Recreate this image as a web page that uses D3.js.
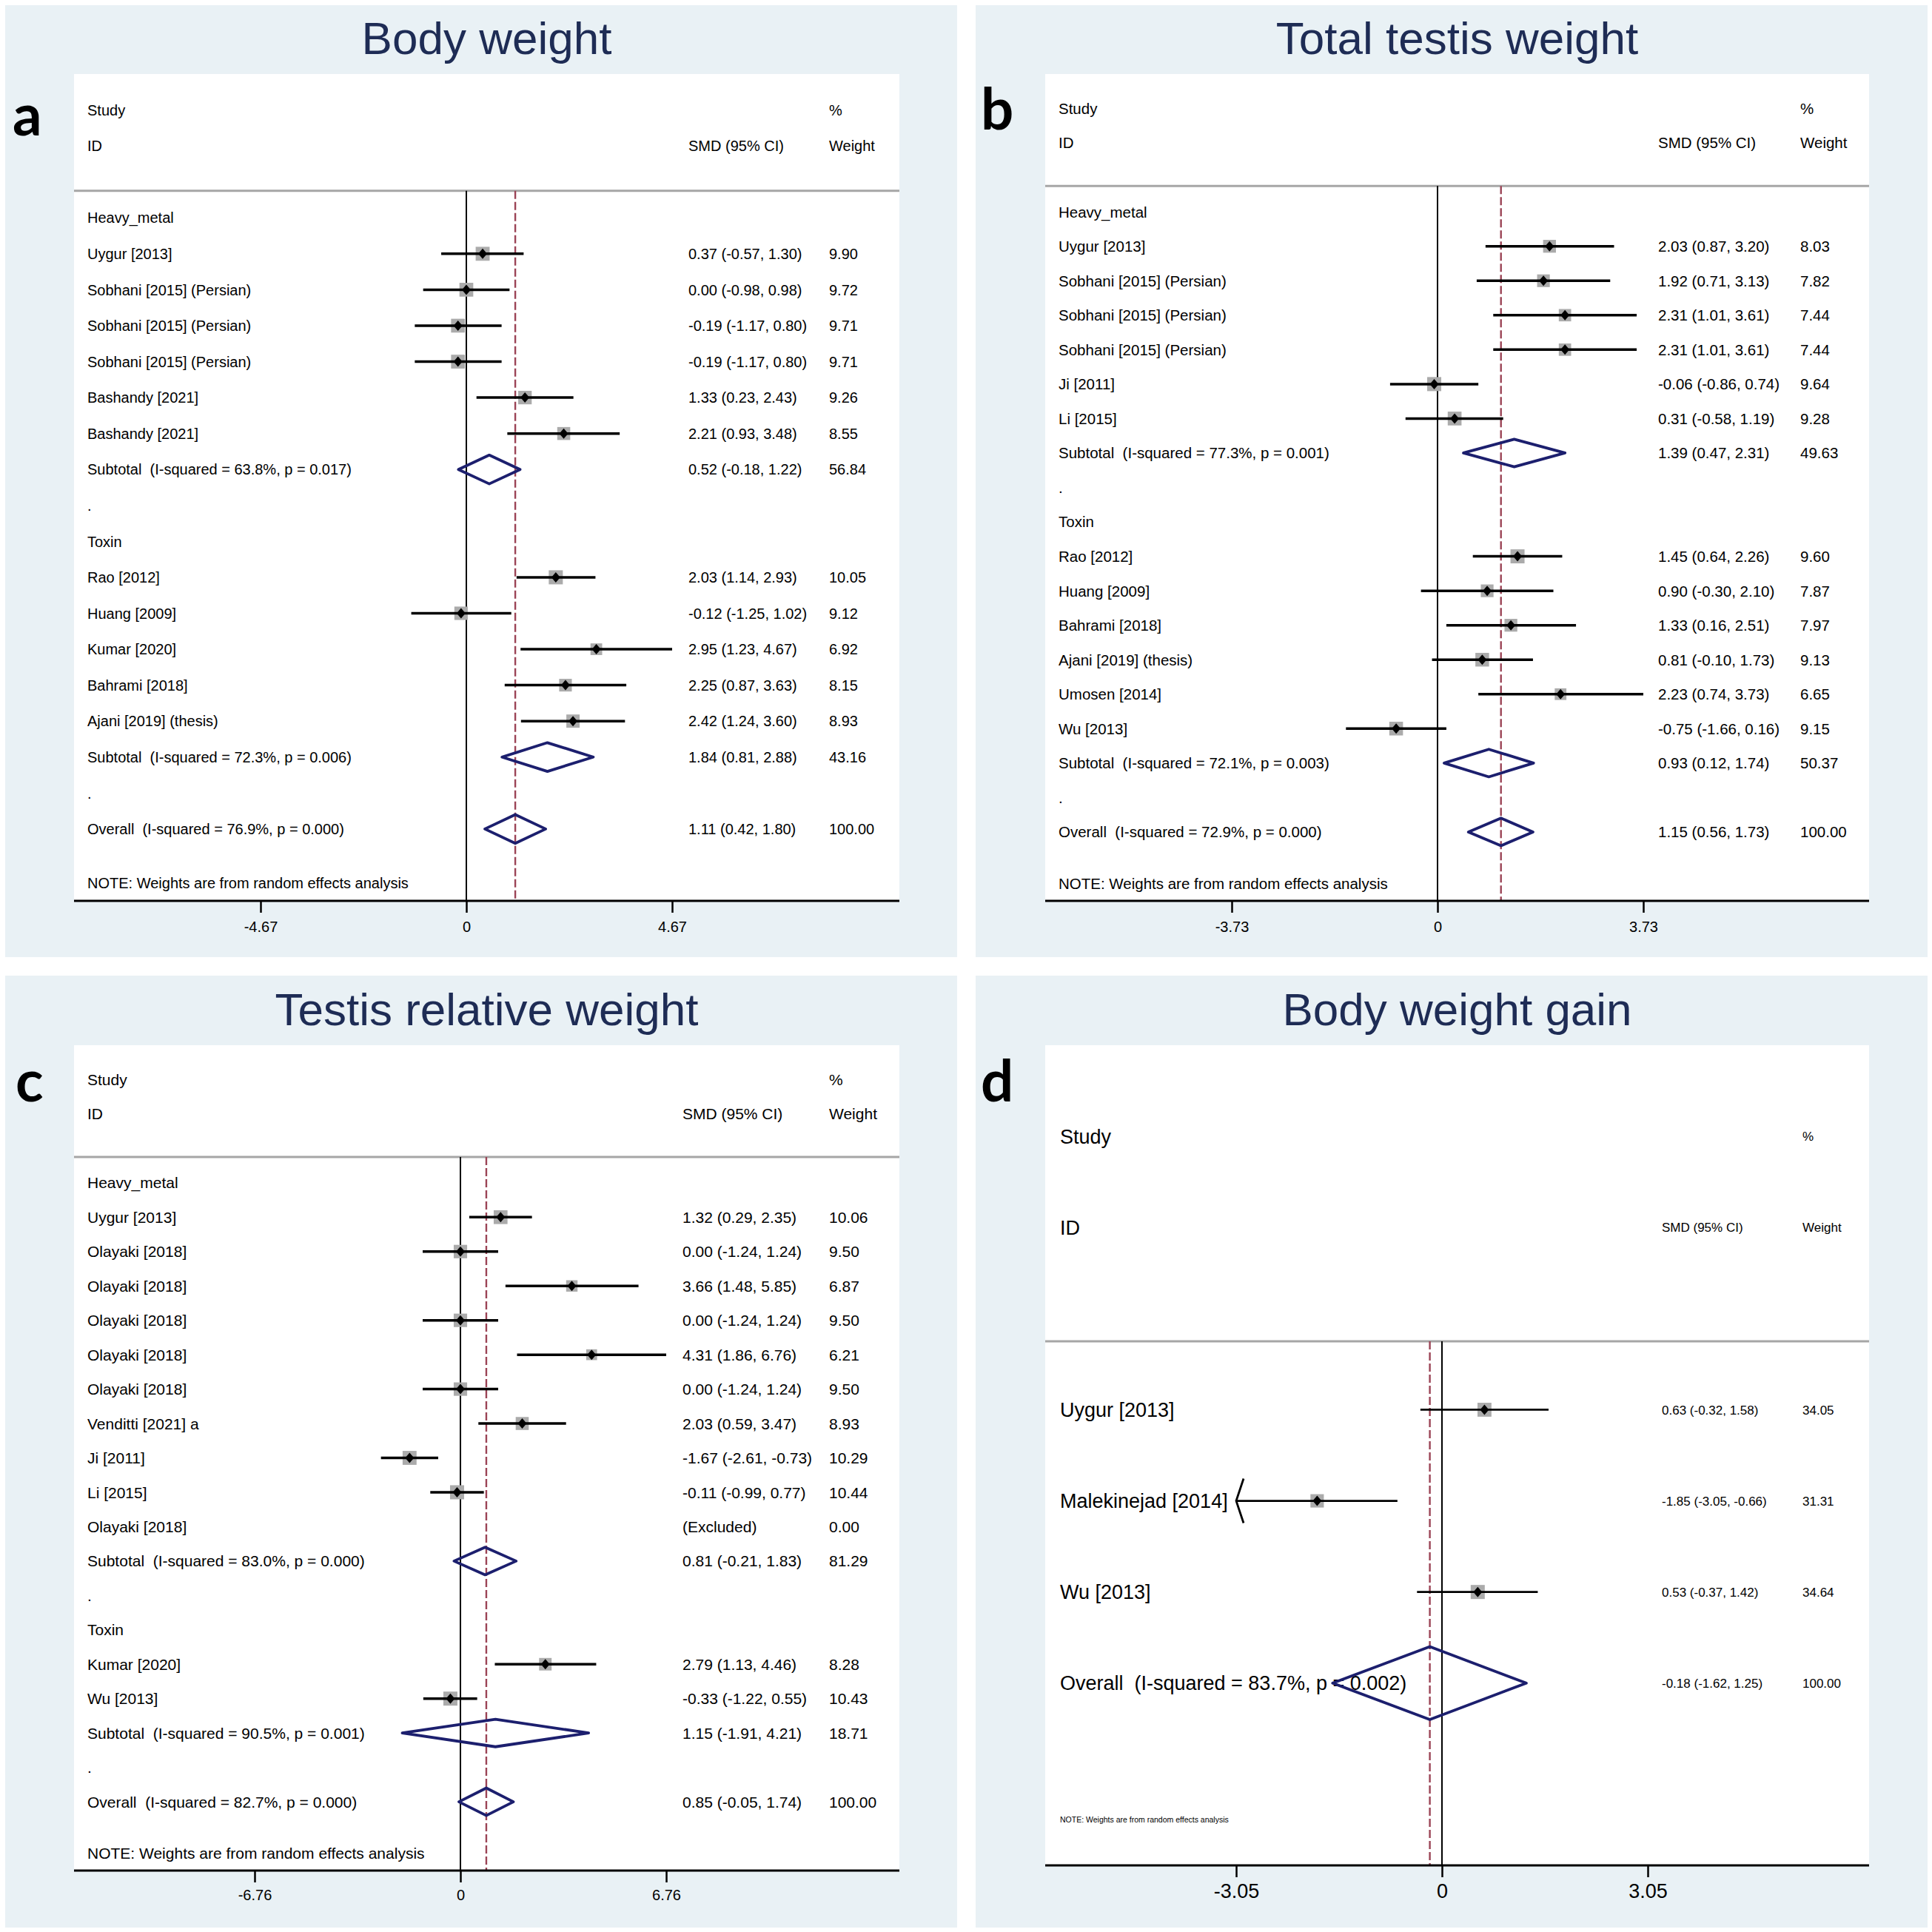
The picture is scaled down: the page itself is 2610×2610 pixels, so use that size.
<!DOCTYPE html>
<html>
<head>
<meta charset="utf-8">
<script src="https://cdn.jsdelivr.net/npm/d3@7/dist/d3.min.js"></script>
<style>
  body { margin: 0; background: #ffffff; }
  svg text { font-family: "Liberation Sans", Arial, sans-serif; white-space: pre; }
</style>
</head>
<body>
<div id="chart"></div>
<script>
// ---- data: a) Body weight ----
const aLabels = ["Heavy_metal", "Uygur [2013]", "Sobhani [2015] (Persian)", "Sobhani [2015] (Persian)", "Sobhani [2015] (Persian)",
  "Bashandy [2021]", "Bashandy [2021]", "Subtotal  (I-squared = 63.8%, p = 0.017)", ".", "Toxin",
  "Rao [2012]", "Huang [2009]", "Kumar [2020]", "Bahrami [2018]", "Ajani [2019] (thesis)",
  "Subtotal  (I-squared = 72.3%, p = 0.006)", ".", "Overall  (I-squared = 76.9%, p = 0.000)"];
const aEst = [null, 0.37, 0.00, -0.19, -0.19, 1.33, 2.21, 0.52, null, null, 2.03, -0.12, 2.95, 2.25, 2.42, 1.84, null, 1.11];
const aLow = [null, -0.57, -0.98, -1.17, -1.17, 0.23, 0.93, -0.18, null, null, 1.14, -1.25, 1.23, 0.87, 1.24, 0.81, null, 0.42];
const aHigh = [null, 1.30, 0.98, 0.80, 0.80, 2.43, 3.48, 1.22, null, null, 2.93, 1.02, 4.67, 3.63, 3.60, 2.88, null, 1.80];
const aWeight = [null, 9.90, 9.72, 9.71, 9.71, 9.26, 8.55, 56.84, null, null, 10.05, 9.12, 6.92, 8.15, 8.93, 43.16, null, 100.00];
const aTicks = [-4.67, 0, 4.67];

// ---- data: b) Total testis weight ----
const bLabels = ["Heavy_metal", "Uygur [2013]", "Sobhani [2015] (Persian)", "Sobhani [2015] (Persian)", "Sobhani [2015] (Persian)",
  "Ji [2011]", "Li [2015]", "Subtotal  (I-squared = 77.3%, p = 0.001)", ".", "Toxin",
  "Rao [2012]", "Huang [2009]", "Bahrami [2018]", "Ajani [2019] (thesis)", "Umosen [2014]", "Wu [2013]",
  "Subtotal  (I-squared = 72.1%, p = 0.003)", ".", "Overall  (I-squared = 72.9%, p = 0.000)"];
const bEst = [null, 2.03, 1.92, 2.31, 2.31, -0.06, 0.31, 1.39, null, null, 1.45, 0.90, 1.33, 0.81, 2.23, -0.75, 0.93, null, 1.15];
const bLow = [null, 0.87, 0.71, 1.01, 1.01, -0.86, -0.58, 0.47, null, null, 0.64, -0.30, 0.16, -0.10, 0.74, -1.66, 0.12, null, 0.56];
const bHigh = [null, 3.20, 3.13, 3.61, 3.61, 0.74, 1.19, 2.31, null, null, 2.26, 2.10, 2.51, 1.73, 3.73, 0.16, 1.74, null, 1.73];
const bWeight = [null, 8.03, 7.82, 7.44, 7.44, 9.64, 9.28, 49.63, null, null, 9.60, 7.87, 7.97, 9.13, 6.65, 9.15, 50.37, null, 100.00];
const bTicks = [-3.73, 0, 3.73];

// ---- data: c) Testis relative weight ----
const cLabels = ["Heavy_metal", "Uygur [2013]", "Olayaki [2018]", "Olayaki [2018]", "Olayaki [2018]", "Olayaki [2018]",
  "Olayaki [2018]", "Venditti [2021] a", "Ji [2011]", "Li [2015]", "Olayaki [2018]",
  "Subtotal  (I-squared = 83.0%, p = 0.000)", ".", "Toxin", "Kumar [2020]", "Wu [2013]",
  "Subtotal  (I-squared = 90.5%, p = 0.001)", ".", "Overall  (I-squared = 82.7%, p = 0.000)"];
const cEst = [null, 1.32, 0.00, 3.66, 0.00, 4.31, 0.00, 2.03, -1.67, -0.11, null, 0.81, null, null, 2.79, -0.33, 1.15, null, 0.85];
const cLow = [null, 0.29, -1.24, 1.48, -1.24, 1.86, -1.24, 0.59, -2.61, -0.99, null, -0.21, null, null, 1.13, -1.22, -1.91, null, -0.05];
const cHigh = [null, 2.35, 1.24, 5.85, 1.24, 6.76, 1.24, 3.47, -0.73, 0.77, null, 1.83, null, null, 4.46, 0.55, 4.21, null, 1.74];
const cWeight = [null, 10.06, 9.50, 6.87, 9.50, 6.21, 9.50, 8.93, 10.29, 10.44, 0.00, 81.29, null, null, 8.28, 10.43, 18.71, null, 100.00];
const cTicks = [-6.76, 0, 6.76];

// ---- data: d) Body weight gain ----
const dLabels = ["Uygur [2013]", "Malekinejad [2014]", "Wu [2013]", "Overall  (I-squared = 83.7%, p = 0.002)"];
const dEst = [0.63, -1.85, 0.53, -0.18];
const dLow = [-0.32, -3.05, -0.37, -1.62];
const dHigh = [1.58, -0.66, 1.42, 1.25];
const dWeight = [34.05, 31.31, 34.64, 100.00];
const dTicks = [-3.05, 0, 3.05];

const titles = ["Body weight", "Total testis weight", "Testis relative weight", "Body weight gain"];
const letters = ["a", "b", "c", "d"];

const panels = [
  { letter: letters[0], title: titles[0], labels: aLabels, est: aEst, low: aLow, high: aHigh, weight: aWeight, ticks: aTicks,
    bx: 7, by: 7, px0: 100, px1: 1215, py0: 100, py1: 1217, zero: 630, titleY: 73, letterX: 17, letterY: 183,
    col: [118, 930, 1120], fs: 20, colFs: 20, noteFs: 20, tickFs: 20, tickPad: 12, lw: 3.5, arrows: false },
  { letter: letters[1], title: titles[1], labels: bLabels, est: bEst, low: bLow, high: bHigh, weight: bWeight, ticks: bTicks,
    bx: 1318, by: 7, px0: 1412, px1: 2525, py0: 100, py1: 1217, zero: 1942, titleY: 73, letterX: 1325, letterY: 175,
    col: [1430, 2240, 2432], fs: 20.5, colFs: 20.5, noteFs: 20.5, tickFs: 20, tickPad: 12, lw: 3.5, arrows: false },
  { letter: letters[2], title: titles[2], labels: cLabels, est: cEst, low: cLow, high: cHigh, weight: cWeight, ticks: cTicks,
    bx: 7, by: 1318, px0: 100, px1: 1215, py0: 1412, py1: 2527, zero: 622, titleY: 1385, letterX: 21, letterY: 1488,
    col: [118, 922, 1120], fs: 21, colFs: 21, noteFs: 21, tickFs: 20, tickPad: 10, lw: 3.5, arrows: false },
  { letter: letters[3], title: titles[3], labels: dLabels, est: dEst, low: dLow, high: dHigh, weight: dWeight, ticks: dTicks,
    bx: 1318, by: 1318, px0: 1412, px1: 2525, py0: 1412, py1: 2520, zero: 1948, titleY: 1385, letterX: 1325, letterY: 1488,
    col: [1432, 2245, 2435], fs: 27, colFs: 17, noteFs: 10.5, tickFs: 27, tickPad: 9, lw: 2.8, arrows: true }
];

const BG = "#e9f1f5";
const NAVY = "#1c1f6e";
const TITLE = "#1e2c55";
const DASH = "#9b4456";
const BOX = "#ababab";

const svg = d3.select("#chart").append("svg")
  .attr("width", 2610)
  .attr("height", 2610);

function fmt(v) { return v.toFixed(2); }

function drawPanel(p) {
  const g = svg.append("g");
  const n = p.labels.length - 1;

  const x = d3.scaleLinear()
    .domain([p.ticks[0], p.ticks[2]])
    .range([p.zero - 278, p.zero + 278]);

  // rows sit on integer positions; header rows at -3/-2, axis two rows below the last one
  const y = d3.scaleLinear()
    .domain([-4, n + 2])
    .range([p.py0, p.py1]);

  const rowH = y(1) - y(0);
  const rows = p.labels.map((label, i) => ({
    i, label, est: p.est[i], low: p.low[i], high: p.high[i], weight: p.weight[i],
    pooled: label.startsWith("Subtotal") || label.startsWith("Overall")
  }));
  const studies = rows.filter(d => d.est !== null && !d.pooled);
  const pooled = rows.filter(d => d.est !== null && d.pooled);
  const maxW = d3.max(studies, d => d.weight);

  // background + plot region
  g.append("rect")
    .attr("x", p.bx).attr("y", p.by)
    .attr("width", 1286).attr("height", 1286)
    .attr("fill", BG);
  g.append("rect")
    .attr("x", p.px0).attr("y", p.py0)
    .attr("width", p.px1 - p.px0).attr("height", p.py1 - p.py0)
    .attr("fill", "#ffffff");

  // title and panel letter
  g.append("text")
    .attr("x", (p.px0 + p.px1) / 2).attr("y", p.titleY)
    .attr("text-anchor", "middle")
    .attr("font-size", 62)
    .attr("fill", TITLE)
    .text(p.title);
  g.append("text")
    .attr("x", p.letterX).attr("y", p.letterY)
    .attr("font-size", 78)
    .attr("font-weight", "bold")
    .style("font-family", "Lato, 'Open Sans', sans-serif")
    .attr("fill", "#000")
    .text(p.letter);

  // header
  const base = (row, fs) => y(row) + fs * 0.36;
  g.append("text").attr("x", p.col[0]).attr("y", base(-3, p.fs)).attr("font-size", p.fs).text("Study");
  g.append("text").attr("x", p.col[0]).attr("y", base(-2, p.fs)).attr("font-size", p.fs).text("ID");
  g.append("text").attr("x", p.col[1]).attr("y", base(-2, p.colFs)).attr("font-size", p.colFs).text("SMD (95% CI)");
  g.append("text").attr("x", p.col[2]).attr("y", base(-3, p.colFs)).attr("font-size", p.colFs).text("%");
  g.append("text").attr("x", p.col[2]).attr("y", base(-2, p.colFs)).attr("font-size", p.colFs).text("Weight");

  g.append("line")
    .attr("x1", p.px0).attr("x2", p.px1)
    .attr("y1", y(-0.75)).attr("y2", y(-0.75))
    .attr("stroke", "#a6a6a6").attr("stroke-width", 3);

  // reference lines
  g.append("line")
    .attr("x1", x(0)).attr("x2", x(0))
    .attr("y1", y(-0.75)).attr("y2", p.py1)
    .attr("stroke", "#000").attr("stroke-width", 2);
  const overall = rows[n];
  g.append("line")
    .attr("x1", x(overall.est)).attr("x2", x(overall.est))
    .attr("y1", y(-0.75)).attr("y2", p.py1)
    .attr("stroke", DASH).attr("stroke-width", 2.4)
    .attr("stroke-dasharray", "11,4");

  // row text
  g.selectAll("text.label")
    .data(rows)
    .enter()
    .append("text")
    .attr("class", "label")
    .attr("x", p.col[0])
    .attr("y", d => base(d.i, p.fs))
    .attr("font-size", p.fs)
    .text(d => d.label);

  g.selectAll("text.smd")
    .data(rows.filter(d => d.weight !== null))
    .enter()
    .append("text")
    .attr("class", "smd")
    .attr("x", p.col[1])
    .attr("y", d => base(d.i, p.colFs))
    .attr("font-size", p.colFs)
    .text(d => d.est === null ? "(Excluded)" : `${fmt(d.est)} (${fmt(d.low)}, ${fmt(d.high)})`);

  g.selectAll("text.wt")
    .data(rows.filter(d => d.weight !== null))
    .enter()
    .append("text")
    .attr("class", "wt")
    .attr("x", p.col[2])
    .attr("y", d => base(d.i, p.colFs))
    .attr("font-size", p.colFs)
    .text(d => fmt(d.weight));

  g.append("text")
    .attr("x", p.col[0])
    .attr("y", base(n + 1.5, p.noteFs))
    .attr("font-size", p.noteFs)
    .text("NOTE: Weights are from random effects analysis");

  // weight boxes
  g.selectAll("rect.box")
    .data(studies)
    .enter()
    .append("rect")
    .attr("class", "box")
    .attr("x", d => x(d.est) - 9.5 * Math.sqrt(d.weight / maxW))
    .attr("y", d => y(d.i) - 9.5 * Math.sqrt(d.weight / maxW))
    .attr("width", d => 19 * Math.sqrt(d.weight / maxW))
    .attr("height", d => 19 * Math.sqrt(d.weight / maxW))
    .attr("fill", BOX);

  // confidence intervals
  g.selectAll("line.ci")
    .data(studies)
    .enter()
    .append("line")
    .attr("class", "ci")
    .attr("x1", d => x(d.low)).attr("x2", d => x(d.high))
    .attr("y1", d => y(d.i)).attr("y2", d => y(d.i))
    .attr("stroke", "#000").attr("stroke-width", p.lw);

  if (p.arrows) {
    g.selectAll("path.arrow")
      .data(studies.filter(d => d.low <= p.ticks[0]))
      .enter()
      .append("path")
      .attr("class", "arrow")
      .attr("d", d => `M${x(p.ticks[0]) + 10},${y(d.i) - 30} L${x(p.ticks[0])},${y(d.i)} L${x(p.ticks[0]) + 10},${y(d.i) + 30}`)
      .attr("fill", "none")
      .attr("stroke", "#000").attr("stroke-width", p.lw);
  }

  // point estimates
  g.selectAll("path.pt")
    .data(studies)
    .enter()
    .append("path")
    .attr("class", "pt")
    .attr("d", d => `M${x(d.est)},${y(d.i) - 7} L${x(d.est) + 6},${y(d.i)} L${x(d.est)},${y(d.i) + 7} L${x(d.est) - 6},${y(d.i)} Z`)
    .attr("fill", "#000");

  // pooled diamonds
  g.selectAll("path.diamond")
    .data(pooled)
    .enter()
    .append("path")
    .attr("class", "diamond")
    .attr("d", d => `M${x(d.low)},${y(d.i)} L${x(d.est)},${y(d.i) - 0.4 * rowH} L${x(d.high)},${y(d.i)} L${x(d.est)},${y(d.i) + 0.4 * rowH} Z`)
    .attr("fill", "none")
    .attr("stroke", NAVY)
    .attr("stroke-width", 3.8)
    .attr("stroke-linejoin", "round");

  // x axis
  g.append("line")
    .attr("x1", p.px0).attr("x2", p.px1)
    .attr("y1", p.py1).attr("y2", p.py1)
    .attr("stroke", "#000").attr("stroke-width", 3);

  const axis = g.append("g")
    .attr("transform", `translate(0, ${p.py1})`)
    .call(d3.axisBottom(x)
      .tickValues(p.ticks)
      .tickSize(16)
      .tickPadding(p.tickPad)
      .tickFormat(d => d === 0 ? "0" : fmt(d)));
  axis.select(".domain").remove();
  axis.selectAll(".tick line").attr("stroke", "#000").attr("stroke-width", 2.5);
  axis.selectAll(".tick text")
    .attr("font-size", p.tickFs)
    .attr("fill", "#000")
    .style("font-family", "'Liberation Sans', Arial, sans-serif");
}

panels.forEach(drawPanel);
</script>
</body>
</html>
